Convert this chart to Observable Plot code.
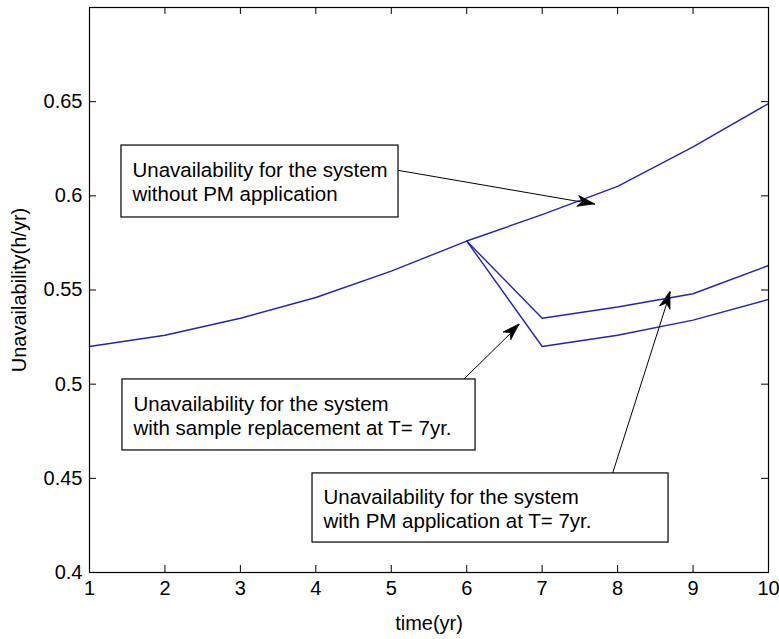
<!DOCTYPE html>
<html>
<head>
<meta charset="utf-8">
<script src="https://cdn.jsdelivr.net/npm/d3@7"></script>
<script src="https://cdn.jsdelivr.net/npm/@observablehq/plot@0.6"></script>
<style>
  html, body { margin: 0; padding: 0; background: #ffffff; }
  #chart { width: 779px; height: 639px; }
</style>
</head>
<body>
<div id="chart"></div>
<script>
// ---- data ----
const years = [1, 2, 3, 4, 5, 6, 7, 8, 9, 10];
const withoutPM = [0.520, 0.526, 0.535, 0.546, 0.560, 0.576, 0.590, 0.605, 0.626, 0.649];
const pmYears = [6, 7, 8, 9, 10];
const withPM = [0.576, 0.535, 0.541, 0.548, 0.563];
const withReplacement = [0.576, 0.520, 0.526, 0.534, 0.545];

const xTicks = [1, 2, 3, 4, 5, 6, 7, 8, 9, 10];
const yTicks = [0.4, 0.45, 0.5, 0.55, 0.6, 0.65];

// annotation boxes (data coordinates) and their texts
const boxTexts = [
  "Unavailability for the system\nwithout PM application",
  "Unavailability for the system\nwith sample replacement at T= 7yr.",
  "Unavailability for the system\nwith PM application at T= 7yr."
];
const boxX1 = [1.424, 1.437, 3.956];
const boxX2 = [5.096, 6.117, 8.675];
const boxY1 = [0.5885, 0.4648, 0.4159];
const boxY2 = [0.6267, 0.5025, 0.4526];

// annotation arrows (start -> tip), data coordinates
const arrowX1 = [5.096, 5.958, 7.933];
const arrowY1 = [0.6135, 0.5025, 0.4526];
const arrowX2 = [7.70, 6.70, 8.70];
const arrowY2 = [0.5955, 0.5317, 0.549];

// ---- build tables ----
const lineData = [
  ...years.map((x, i) => ({x, y: withoutPM[i], s: "without"})),
  ...pmYears.map((x, i) => ({x, y: withPM[i], s: "pm"})),
  ...pmYears.map((x, i) => ({x, y: withReplacement[i], s: "replacement"}))
];
const boxes = boxTexts.map((t, i) => ({
  text: t, x1: boxX1[i], x2: boxX2[i], y1: boxY1[i], y2: boxY2[i]
}));
const arrows = arrowX1.map((x1, i) => ({
  x1, y1: arrowY1[i], x2: arrowX2[i], y2: arrowY2[i]
}));

const FONT = "'Liberation Sans', Arial, Helvetica, sans-serif";
const LINE = "#2424b4";
const W = 779, H = 639;
const mL = 89, mR = 11, mT = 7, mB = 67;
const TICK = 7;

const plot = Plot.plot({
  width: W,
  height: H,
  marginLeft: mL,
  marginRight: mR,
  marginTop: mT,
  marginBottom: mB,
  style: {fontFamily: FONT, fontSize: "20px", background: "white", color: "black"},
  x: {domain: [1, 10]},
  y: {domain: [0.4, 0.7]},
  marks: [
    Plot.axisX({
      ticks: xTicks, tickSize: 0, tickPadding: 8, tickFormat: d => String(d),
      fontSize: 20, label: "time(yr)", labelAnchor: "center", labelArrow: "none",
      labelOffset: 57
    }),
    Plot.axisY({
      ticks: yTicks, tickSize: 0, tickPadding: 7, tickFormat: d => String(d),
      fontSize: 20, label: "Unavailability(h/yr)", labelAnchor: "center", labelArrow: "none",
      labelOffset: 78
    }),
    // inward ticks on all four sides
    Plot.tickX(xTicks, {x: d => d, stroke: "black", insetTop: H - mT - mB - TICK}),
    Plot.tickX(xTicks, {x: d => d, stroke: "black", insetBottom: H - mT - mB - TICK}),
    Plot.tickY(yTicks, {y: d => d, stroke: "black", insetRight: W - mL - mR - TICK}),
    Plot.tickY(yTicks, {y: d => d, stroke: "black", insetLeft: W - mL - mR - TICK}),
    Plot.line(lineData, {x: "x", y: "y", z: "s", stroke: LINE, strokeWidth: 1.4}),
    Plot.link(arrows, {x1: "x1", y1: "y1", x2: "x2", y2: "y2", stroke: "black", strokeWidth: 1}),
    Plot.rect(boxes, {x1: "x1", x2: "x2", y1: "y1", y2: "y2", fill: "white", stroke: "black", strokeWidth: 1.2}),
    Plot.text(boxes, {
      x: "x1", y: d => (d.y1 + d.y2) / 2, text: "text",
      textAnchor: "start", lineAnchor: "middle", dx: 11,
      fontSize: 20.5, lineHeight: 1.18, fill: "black"
    }),
    Plot.frame({stroke: "black", strokeWidth: 1.2})
  ]
});

// filled arrowheads, positioned with the plot's own scales
const sx = plot.scale("x"), sy = plot.scale("y");
const svg = d3.select(plot);
arrows.forEach(a => {
  const px1 = sx.apply(a.x1), py1 = sy.apply(a.y1);
  const px2 = sx.apply(a.x2), py2 = sy.apply(a.y2);
  const dx = px2 - px1, dy = py2 - py1, len = Math.hypot(dx, dy);
  const ux = dx / len, uy = dy / len, nx = -uy, ny = ux;
  const L = 17, w = 5.5;
  const pts = [
    [px2, py2],
    [px2 - L * ux + w * nx, py2 - L * uy + w * ny],
    [px2 - 0.72 * L * ux, py2 - 0.72 * L * uy],
    [px2 - L * ux - w * nx, py2 - L * uy - w * ny]
  ];
  svg.append("path")
    .attr("d", "M" + pts.map(p => p.join(",")).join("L") + "Z")
    .attr("fill", "black").attr("stroke", "black").attr("stroke-width", 0.8);
});

document.getElementById("chart").appendChild(plot);
</script>
</body>
</html>
